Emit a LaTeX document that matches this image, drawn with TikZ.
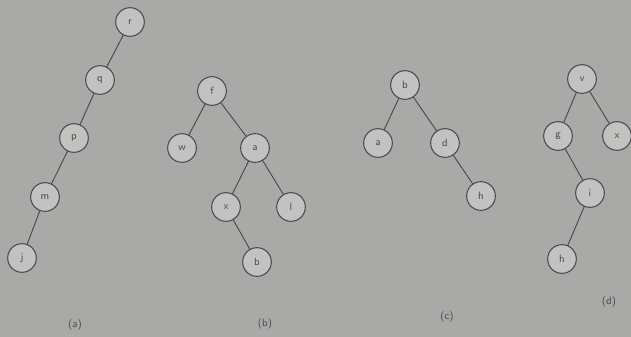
\documentclass[tikz,border=0pt]{standalone}
\usepackage{tikz}
\usepackage{xcolor}
\definecolor{paper}{HTML}{A9A9A7}
\definecolor{disc}{HTML}{C2C2C0}
\definecolor{inkgray}{HTML}{4A4A4A}

\begin{document}
\begin{tikzpicture}[x=0.03cm,y=-0.03cm,every node/.style={font=\sffamily\small,text=inkgray},
  tnode/.style={circle,draw=inkgray,line width=0.9pt,fill=disc,minimum size=0.86cm,inner sep=0pt},
  tedge/.style={draw=inkgray,line width=0.8pt}]
  \fill[paper] (0,0) rectangle (631,337);
  \useasboundingbox (0,0) rectangle (631,337);
  % (a)
  \node[tnode] (ar) at (130,22) {r};
  \node[tnode] (aq) at (100,80) {q};
  \node[tnode] (ap) at (74,138) {p};
  \node[tnode] (am) at (45,197) {m};
  \node[tnode] (aj) at (22,258) {j};
  \draw[tedge] (ar)--(aq) (aq)--(ap) (ap)--(am) (am)--(aj);
  \node (la) at (75,325) {(a)};
  % (b)
  \node[tnode] (bf) at (212,91) {f};
  \node[tnode] (bw) at (182,148) {w};
  \node[tnode] (ba) at (255,148) {a};
  \node[tnode] (bx) at (226,207) {x};
  \node[tnode] (bl) at (291,207) {l};
  \node[tnode] (bb) at (257,262) {b};
  \draw[tedge] (bf)--(bw) (bf)--(ba) (ba)--(bx) (ba)--(bl) (bx)--(bb);
  \node (lb) at (265,324) {(b)};
  % (c)
  \node[tnode] (cb) at (405,85) {b};
  \node[tnode] (ca) at (378,143) {a};
  \node[tnode] (cd) at (445,143) {d};
  \node[tnode] (ch) at (481,196) {h};
  \draw[tedge] (cb)--(ca) (cb)--(cd) (cd)--(ch);
  \node (lc) at (447,317) {(c)};
  % (d)
  \node[tnode] (dv) at (582,79) {v};
  \node[tnode] (dg) at (558,136) {g};
  \node[tnode] (dx) at (617,136) {x};
  \node[tnode] (di) at (590,193) {i};
  \node[tnode] (dh) at (562,259) {h};
  \draw[tedge] (dv)--(dg) (dv)--(dx) (dg)--(di) (di)--(dh);
  \node (ld) at (609,302) {(d)};
\end{tikzpicture}
\end{document}
